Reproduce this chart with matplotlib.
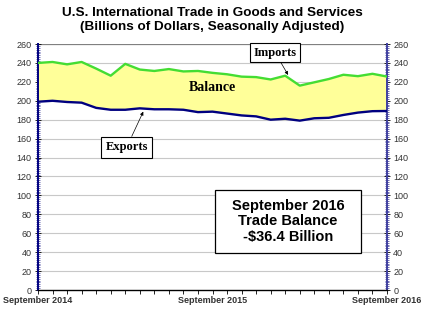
import matplotlib
matplotlib.use("Agg")
import matplotlib.pyplot as plt
from matplotlib.patches import Rectangle
import numpy as np

months = list(range(25))  # Sep 2014 .. Sep 2016
imports = [240, 241, 238.5, 241, 234, 226.5, 239, 233, 231.5, 233.5, 231, 231.5,
           229.5, 228, 225.5, 225, 222.5, 226.5, 216, 219.5, 223, 227.5, 226, 228.5, 225.6]
exports = [199, 200, 198.7, 198, 192.5, 190.5, 190.5, 192, 191, 191, 190.5, 188,
           188.5, 186.5, 184.5, 183.5, 180, 181, 179, 181.5, 182, 185, 187.5, 189, 189.2]
xtick_pos = [0, 12, 24]
xtick_labels = ["September 2014", "September 2015", "September 2016"]
yticks = list(range(0, 261, 20))

sans = "Liberation Sans"
serif = "Liberation Serif"

fig = plt.figure(figsize=(4.25, 3.25), dpi=100)
ax = fig.add_axes([38/425, 1-290/325, (387-38)/425, (290-44)/325])

x = np.array(months)
ax.fill_between(x, exports, imports, color="#FFFF99", zorder=2, linewidth=0)
ax.plot(x, imports, color="#44DD33", lw=1.7, zorder=3)
ax.plot(x, exports, color="#000080", lw=1.7, zorder=3)

ax.set_xlim(0, 24)
ax.set_ylim(0, 260)
for v in yticks[1:-1]:
    ax.axhline(v, color="#C8C8C8", lw=0.8, zorder=1)
ax.axhline(260, color="#808080", lw=0.9, zorder=1)

ax.set_yticks(yticks)
ax.set_yticks(np.arange(0, 261, 2), minor=True)
ax.set_xticks(xtick_pos)
ax.set_xticklabels(xtick_labels, fontfamily=sans, fontsize=6.5, fontweight="bold", color="#333333")
ax.set_xticks(months, minor=True)
ax.tick_params(axis="x", which="both", direction="out", length=3, width=0.6, pad=1.5)
ax.tick_params(axis="y", which="major", direction="inout", length=5, width=0.6,
               left=True, right=True, labelleft=True, labelright=True,
               labelsize=6.5, labelcolor="#333333", pad=2)
ax.tick_params(axis="y", which="minor", direction="inout", length=2.5, width=0.4,
               left=True, right=True, color="#000080")
for lab in ax.get_yticklabels():
    lab.set_fontfamily(sans)

ax.spines["top"].set_visible(False)
ax.spines["left"].set_color("#000080")
ax.spines["left"].set_linewidth(1.4)
ax.spines["right"].set_color("#4040A0")
ax.spines["right"].set_linewidth(1.4)
ax.spines["bottom"].set_color("black")
ax.spines["bottom"].set_linewidth(1.0)

# Titles
fig.text(0.5, 1-13/325, "U.S. International Trade in Goods and Services", ha="center", va="center",
         fontfamily=sans, fontweight="bold", fontsize=9.7)
fig.text(0.5, 1-27/325, "(Billions of Dollars, Seasonally Adjusted)", ha="center", va="center",
         fontfamily=sans, fontweight="bold", fontsize=9.7)

# Balance label
ax.text(12, 213.5, "Balance", ha="center", va="center", fontfamily=serif,
        fontweight="bold", fontsize=10, zorder=5)

# Imports callout
ax.annotate("Imports", xy=(17.2, 227.3), xytext=(16.3, 251),
            ha="center", va="center", fontfamily=serif, fontweight="bold", fontsize=9,
            bbox=dict(boxstyle="square,pad=0.3", fc="white", ec="black", lw=0.8),
            arrowprops=dict(arrowstyle="-|>", color="black", lw=0.5, mutation_scale=5,
                            shrinkA=0, shrinkB=0), zorder=6, annotation_clip=False)

# Exports callout
ax.annotate("Exports", xy=(7.24, 188.5), xytext=(6.1, 151),
            ha="center", va="center", fontfamily=serif, fontweight="bold", fontsize=9,
            bbox=dict(boxstyle="square,pad=0.35", fc="white", ec="black", lw=0.8),
            arrowprops=dict(arrowstyle="-|>", color="black", lw=0.5, mutation_scale=5,
                            shrinkA=0, shrinkB=0), zorder=6)

# Summary box
ax.add_patch(Rectangle((12.2, 39.1), 10.0, 66.6, fc="white", ec="black", lw=0.9, zorder=6))
ax.text(17.2, 72.5, "September 2016\nTrade Balance\n-$36.4 Billion", ha="center", va="center",
        fontfamily=sans, fontweight="bold", fontsize=10.5, linespacing=1.15, zorder=7)

fig.savefig("out.png", dpi=100)
